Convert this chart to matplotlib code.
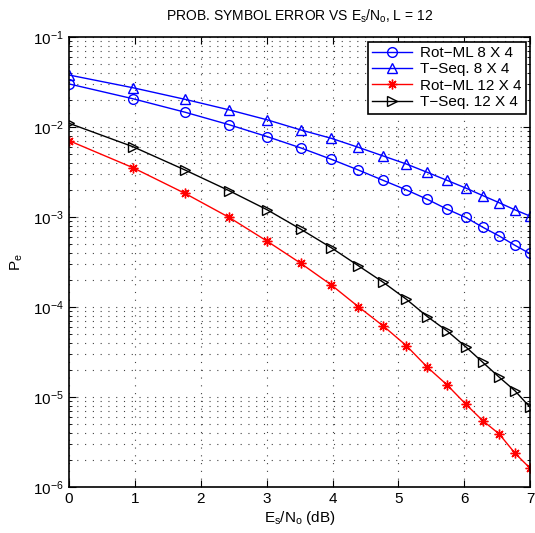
import matplotlib
matplotlib.use("Agg")
import matplotlib.pyplot as plt
from matplotlib.ticker import LogLocator, NullFormatter, MultipleLocator

plt.rcParams['font.family'] = ['Liberation Sans', 'DejaVu Sans']
plt.rcParams['mathtext.fontset'] = 'custom'
plt.rcParams['mathtext.rm'] = 'Liberation Sans'
plt.rcParams['mathtext.it'] = 'Liberation Sans'

# Es/No (dB)
snr_db = [0.0, 0.97, 1.76, 2.43, 3.01, 3.52, 3.98, 4.39, 4.77,
          5.12, 5.44, 5.74, 6.02, 6.28, 6.53, 6.77, 6.99]

rot_ml_8x4 = [0.0301, 0.0206, 0.0146, 0.0106, 0.00781, 0.00585, 0.00438, 0.00333,
              0.00255, 0.00200, 0.00157, 0.00122, 0.00099, 0.00077, 0.000615,
              0.000484, 0.000394]
tseq_8x4 = [0.0378, 0.0273, 0.0203, 0.0155, 0.0120, 0.00926, 0.00749, 0.00595,
            0.00476, 0.00388, 0.00313, 0.00255, 0.00210, 0.00173, 0.00144,
            0.00120, 0.00103]
rot_ml_12x4 = [0.00705, 0.00353, 0.00183, 0.00099, 0.000537, 0.000305, 0.000176,
               0.000101, 6.15e-5, 3.72e-5, 2.14e-5, 1.36e-5, 8.36e-6, 5.46e-6,
               3.88e-6, 2.37e-6, 1.64e-6]
tseq_12x4 = [0.0110, 0.00604, 0.00333, 0.00196, 0.00120, 0.000730, 0.000456,
             0.000288, 0.000188, 0.000122, 7.81e-5, 5.41e-5, 3.62e-5, 2.43e-5,
             1.66e-5, 1.17e-5, 7.8e-6]

# matlab-ish asterisk marker
star = (8, 2, 0)

fig = plt.figure(figsize=(5.35, 5.33), dpi=100)
ax = fig.add_axes([0.129, 0.0863, 0.862, 0.8443])

ax.semilogy(snr_db, rot_ml_8x4, color='blue', marker='o', mfc='none', ms=7, lw=1,
            label='Rot\u2212ML 8 X 4')
ax.semilogy(snr_db, tseq_8x4, color='blue', marker='^', mfc='none', ms=7, lw=1,
            label='T\u2212Seq. 8 X 4')
ax.semilogy(snr_db, rot_ml_12x4, color='red', marker=star, ms=7, mew=1, lw=1,
            label='Rot\u2212ML 12 X 4')
ax.semilogy(snr_db, tseq_12x4, color='black', marker='>', mfc='none', ms=7, lw=1,
            label='T\u2212Seq. 12 X 4')

ax.set_xlim(0, 7)
ax.set_ylim(1e-6, 1e-1)
ax.xaxis.set_major_locator(MultipleLocator(1))
ax.yaxis.set_major_locator(LogLocator(base=10, numticks=10))
ax.yaxis.set_minor_locator(LogLocator(base=10, subs=range(2, 10), numticks=20))
ax.yaxis.set_minor_formatter(NullFormatter())

grid_style = dict(linestyle=(0, (1, 6)), color='#444444', lw=0.8)
ax.grid(True, which='major', **grid_style)
ax.grid(True, which='minor', axis='y', **grid_style)
ax.set_axisbelow(True)
ax.tick_params(which='both', direction='in', top=True, right=True, labelsize=11)
ax.tick_params(which='major', length=5)
ax.tick_params(which='minor', length=2.5)
for s in ax.spines.values():
    s.set_linewidth(1.2)

ax.set_title('PROB. SYMBOL ERROR VS $E_s/N_o$, L = 12', fontsize=10, pad=12)
ax.set_xlabel('$E_s/N_o$ (dB)', fontsize=11, labelpad=2)
ax.set_ylabel('$P_e$', fontsize=11)
ax.yaxis.set_label_coords(-0.095, 0.5)

leg = ax.legend(loc='upper right', fontsize=11, fancybox=False, framealpha=1,
                edgecolor='black', borderaxespad=0.3, handlelength=2.6,
                borderpad=0.3, labelspacing=0.15, handletextpad=0.5)
leg.get_frame().set_linewidth(1.2)

fig.savefig('out.png', dpi=100)
